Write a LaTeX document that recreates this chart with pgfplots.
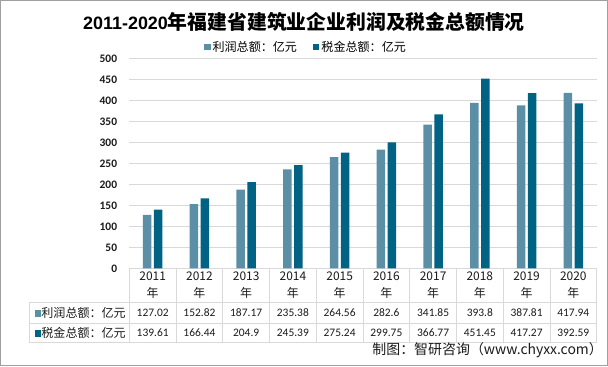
\documentclass[border=0pt]{standalone}
\usepackage{pgfplots}
\pgfplotsset{compat=1.18}
\usepackage{fontspec}
\setmainfont{Carlito}
\newfontfamily\cjk{Noto Sans CJK SC}
\newfontfamily\arial{Liberation Sans}
\definecolor{lb}{HTML}{5B8FA6}
\definecolor{db}{HTML}{006384}
\definecolor{gridc}{HTML}{D9D9D9}
\definecolor{txt}{HTML}{1A1A1A}
\begin{document}
\begin{tikzpicture}[x=1bp,y=1bp]
\useasboundingbox (0,0) rectangle (608,366);
\draw[gray!75, line width=1bp] (0.5,0.5) rectangle (607.5,365.5);
\begin{axis}[
  at={(129.3bp,97.7bp)}, anchor=south west,
  scale only axis, width=467.4bp, height=210bp,
  xmin=-0.5, xmax=9.5, ymin=0, ymax=500,
  ytick={0,50,...,500}, xtick=\empty,
  ymajorgrids, grid style={gridc, line width=0.9bp},
  axis line style={draw=none}, tick style={draw=none}, major tick length=0pt,
  ybar=2.6bp, bar width=8.5bp,
  /pgf/number format/assume math mode=true,
  yticklabel style={font=\fontsize{11.5}{12}\selectfont\bfseries, text=txt, anchor=east, inner sep=0pt, xshift=-12bp},
  legend columns=2,
  legend style={draw=none, fill=none, at={(axis description cs:0.378,1.054)}, anchor=center,
    font=\cjk\fontsize{12.1}{13}\selectfont, inner sep=0pt,
    /tikz/every even column/.append style={column sep=14bp}},
  legend image code/.code={\draw[#1,draw=none] (0bp,-3.2bp) rectangle (6.5bp,3.3bp);},
  clip=false,
]
\addplot[fill=lb, draw=none] coordinates {(0,127.02) (1,152.82) (2,187.17) (3,235.38) (4,264.56) (5,282.6) (6,341.85) (7,393.8) (8,387.81) (9,417.94)};
\addplot[fill=db, draw=none] coordinates {(0,139.61) (1,166.44) (2,204.9) (3,245.39) (4,275.24) (5,299.75) (6,366.77) (7,451.45) (8,417.27) (9,392.59)};
\legend{利润总额：亿元, 税金总额：亿元}
\end{axis}
% title
\node at (304,344) {\arial\bfseries\fontsize{18}{20}\selectfont 2011-2020\cjk\fontsize{19.9}{20}\selectfont 年福建省建筑业企业利润及税金总额情况};
% table grid
\foreach \k in {0,...,10} {\draw[gridc, line width=0.9bp] ({129.3+46.74*\k},98) -- ({129.3+46.74*\k},24);}
\foreach \yy in {64,43,24} {\draw[gridc, line width=0.9bp] (29,\yy) -- (596.7,\yy);}
\draw[gridc, line width=0.9bp] (29,64) -- (29,24);
% years
\foreach \yr [count=\i from 0] in {2011,2012,2013,2014,2015,2016,2017,2018,2019,2020} {
  \node[text=txt, inner sep=0pt] at ({129.3+46.74*(\i+0.5)},90) {\cjk\fontsize{12}{13}\selectfont \yr};
  \node[text=txt, inner sep=0pt] at ({129.3+46.74*(\i+0.5)},73) {\cjk\fontsize{12}{13}\selectfont 年};
}
\foreach \v [count=\i from 0] in {127.02,152.82,187.17,235.38,264.56,282.6,341.85,393.8,387.81,417.94} {
  \node[text=txt, inner sep=0pt] at ({129.3+46.74*(\i+0.5)},53.5) {\fontsize{11.5}{12}\selectfont \v};
}
\foreach \v [count=\i from 0] in {139.61,166.44,204.9,245.39,275.24,299.75,366.77,451.45,417.27,392.59} {
  \node[text=txt, inner sep=0pt] at ({129.3+46.74*(\i+0.5)},33.5) {\fontsize{11.5}{12}\selectfont \v};
}
\node[anchor=east, text=txt, inner sep=0pt] at (126,53.5) {\cjk\fontsize{12.1}{13}\selectfont\textcolor{lb}{\rule[0.5bp]{6.5bp}{6.5bp}}利润总额：亿元};
\node[anchor=east, text=txt, inner sep=0pt] at (126,33.5) {\cjk\fontsize{12.1}{13}\selectfont\textcolor{db}{\rule[0.5bp]{6.5bp}{6.5bp}}税金总额：亿元};
% source
\node[anchor=east, text=txt, inner sep=0pt] at (603,15.5) {\cjk\fontsize{14}{16}\selectfont 制图：智研咨询（www.chyxx.com）};
\end{tikzpicture}
\end{document}
